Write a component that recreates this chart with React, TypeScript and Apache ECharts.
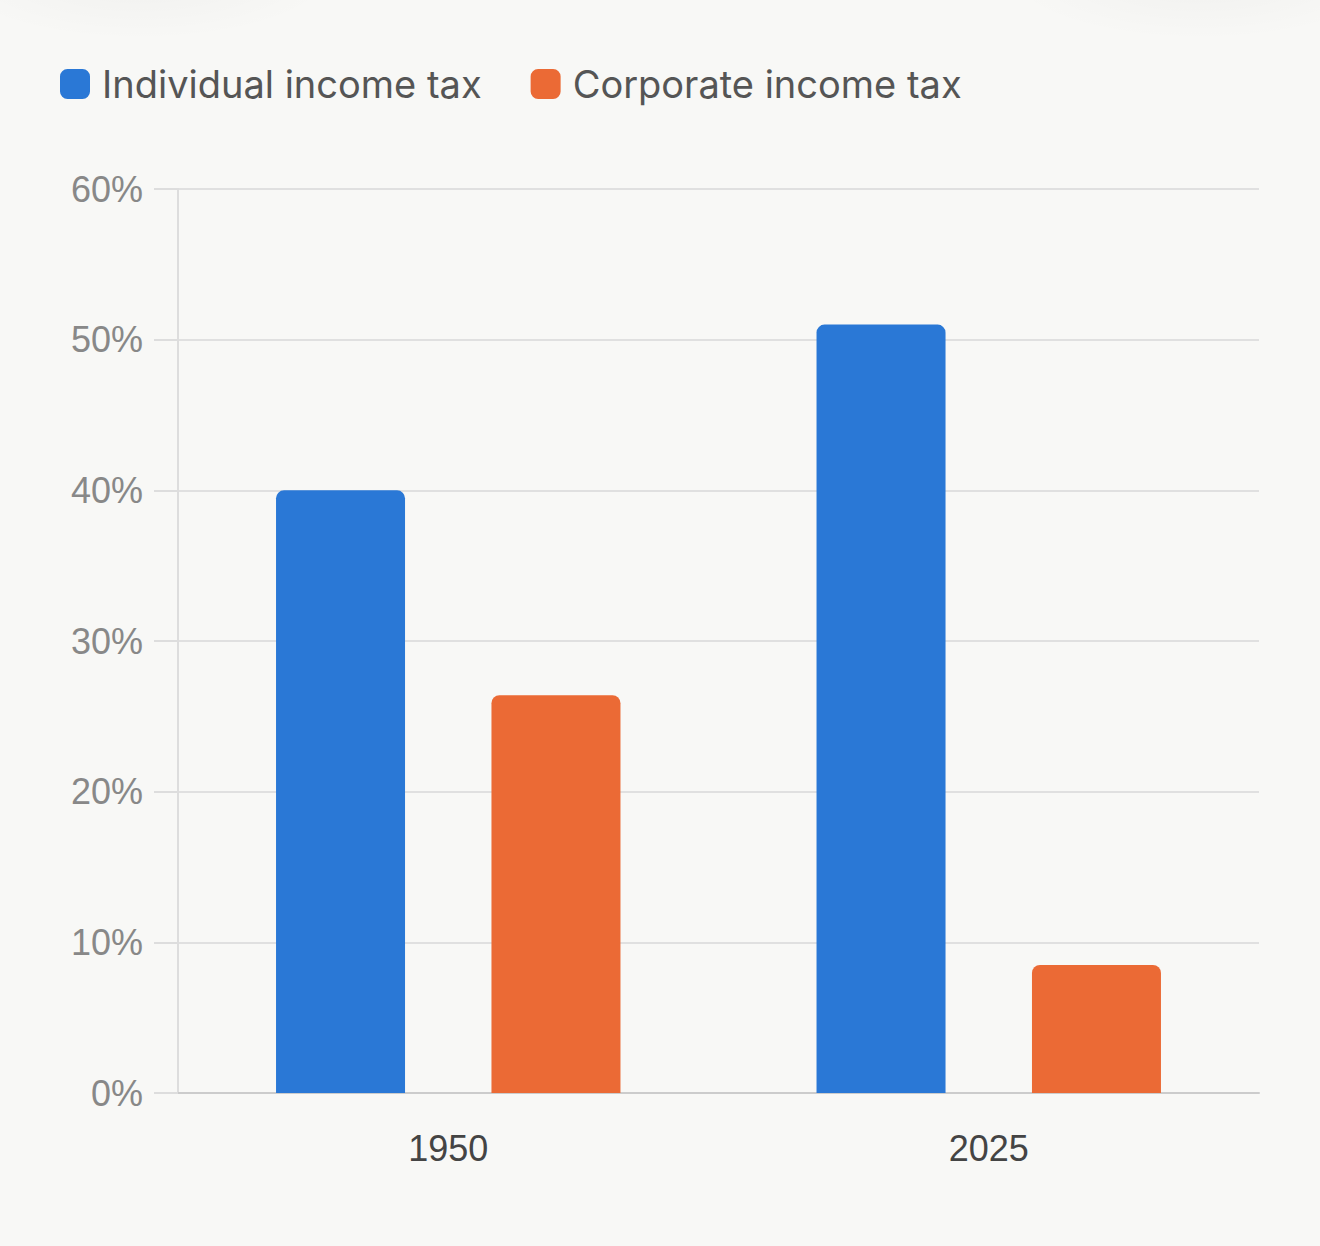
import React, { useEffect, useRef } from "react";
import * as echarts from "echarts";

const categories = ["1950", "2025"];
const individualIncomeTax = [40, 51];
const corporateIncomeTax = [26.4, 8.5];
const yTicks = [0, 10, 20, 30, 40, 50, 60];

export default function App() {
  const ref = useRef<HTMLDivElement>(null);
  useEffect(() => {
    if (!ref.current) return;
    const chart = echarts.init(ref.current, null, { renderer: "svg" });
    const shade = {
      type: "radial",
      x: 0.5,
      y: 0.5,
      r: 0.5,
      colorStops: [
        { offset: 0, color: "rgba(0,0,0,0.035)" },
        { offset: 1, color: "rgba(0,0,0,0)" },
      ],
    };
    chart.setOption({
      animation: false,
      backgroundColor: "#f8f8f6",
      graphic: [
        { type: "ellipse", shape: { cx: 140, cy: -30, rx: 200, ry: 70 }, style: { fill: shade }, z: -1, silent: true },
        { type: "ellipse", shape: { cx: 1200, cy: -30, rx: 200, ry: 70 }, style: { fill: shade }, z: -1, silent: true },
      ],
      legend: {
        left: 60,
        top: 65,
        padding: 0,
        itemWidth: 30,
        itemHeight: 30,
        itemGap: 49,
        icon: "roundRect",
        textStyle: { fontSize: 38, color: "#555555", fontFamily: "Inter", padding: [0, 0, 0, 7] },
        data: ["Individual income tax", "Corporate income tax"],
      },
      grid: { left: 178, right: 61, top: 189, bottom: 153, containLabel: false },
      xAxis: {
        type: "category",
        data: categories,
        axisLine: { show: true, lineStyle: { color: "#cccccc", width: 2 } },
        axisTick: { show: false },
        axisLabel: { fontSize: 36, color: "#444444", margin: 37, fontFamily: "Liberation Sans" },
      },
      yAxis: {
        type: "value",
        min: yTicks[0],
        max: yTicks[yTicks.length - 1],
        interval: 10,
        axisLine: { show: true, lineStyle: { color: "#dddddd", width: 2 } },
        axisTick: { show: true, length: 24, lineStyle: { color: "#dddddd", width: 2 } },
        splitLine: { show: true, lineStyle: { color: "#e0e0e0", width: 2 } },
        axisLabel: {
          fontSize: 36,
          color: "#888888",
          margin: 35,
          fontFamily: "Liberation Sans",
          formatter: (v: number) => `${v}%`,
        },
      },
      series: [
        {
          name: "Individual income tax",
          type: "bar",
          data: individualIncomeTax,
          barWidth: 129,
          barGap: "67%",
          itemStyle: { color: "#2a78d6", borderRadius: [8, 8, 0, 0] },
        },
        {
          name: "Corporate income tax",
          type: "bar",
          data: corporateIncomeTax,
          barWidth: 129,
          itemStyle: { color: "#eb6a35", borderRadius: [8, 8, 0, 0] },
        },
      ],
    });
    return () => chart.dispose();
  }, []);
  return (
    <div
      ref={ref}
      style={{ position: "absolute", left: 0, top: 0, width: 1320, height: 1246 }}
    />
  );
}
